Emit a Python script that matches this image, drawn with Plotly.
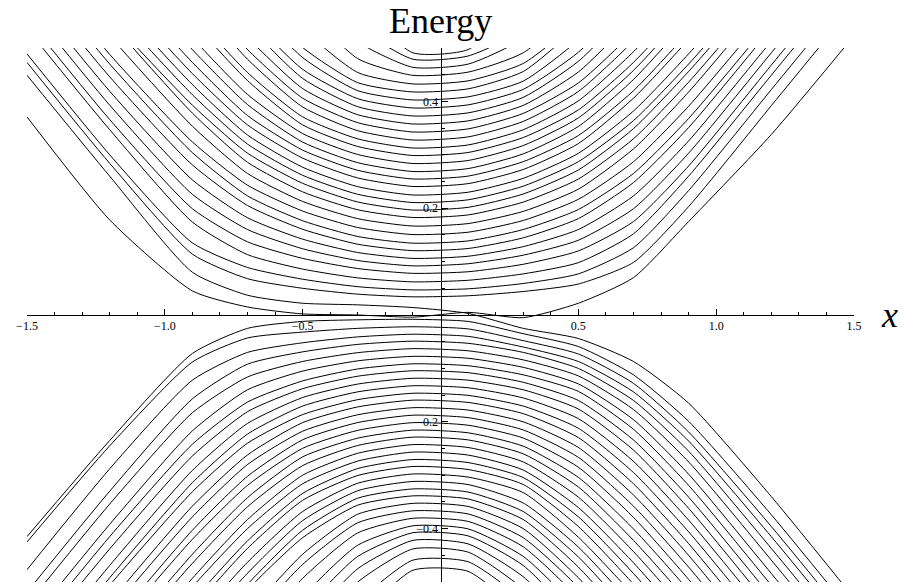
import plotly.graph_objects as go

# momentum sample points
x_nodes = [-1.5, -1.2, -0.9, -0.7, -0.5, -0.3, -0.1, 0.1, 0.3, 0.5, 0.7, 0.9, 1.2, 1.5]

# lowest conduction level (nearly flat around zero in the middle)
edge_band = [0.371, 0.178, 0.045, 0.015, 0.002, 0.0, -0.004, 0.005, -0.005, 0.022, 0.07, 0.175, 0.338, 0.523]

# level that crosses the gap from the conduction side to the valence side
crossing_band = [0.449, 0.260, 0.08, 0.037, 0.022, 0.019, 0.014, 0.003, -0.025, -0.044, -0.087, -0.165, -0.34, -0.53]

# conduction levels, lowest first
upper_bands = [
    [0.473, 0.284, 0.114, 0.068, 0.050, 0.039, 0.034, 0.036, 0.044, 0.058, 0.0985, 0.203, 0.392, 0.581],
    [0.489, 0.300, 0.135, 0.089, 0.067, 0.053, 0.047, 0.049, 0.059, 0.077, 0.126, 0.233, 0.422, 0.611],
    [0.536, 0.347, 0.174, 0.113, 0.086, 0.0695, 0.062, 0.065, 0.077, 0.098, 0.152, 0.260, 0.449, 0.638],
    [0.555, 0.366, 0.199, 0.137, 0.106, 0.087, 0.078, 0.081, 0.095, 0.120, 0.175, 0.279, 0.468, 0.657],
    [0.582, 0.393, 0.226, 0.160, 0.124, 0.102, 0.092, 0.096, 0.112, 0.140, 0.199, 0.303, 0.491, 0.680],
    [0.608, 0.419, 0.253, 0.182, 0.142, 0.117, 0.106, 0.110, 0.128, 0.160, 0.223, 0.326, 0.513, 0.702],
    [0.635, 0.446, 0.281, 0.205, 0.1605, 0.1325, 0.1205, 0.1245, 0.1445, 0.1805, 0.248, 0.351, 0.537, 0.726],
    [0.659, 0.470, 0.304, 0.223, 0.1765, 0.147, 0.1345, 0.1387, 0.160, 0.1975, 0.265, 0.368, 0.552, 0.741],
    [0.677, 0.488, 0.324, 0.243, 0.1946, 0.1638, 0.1506, 0.155, 0.177, 0.2166, 0.287, 0.391, 0.574, 0.763],
    [0.712, 0.523, 0.3535, 0.265, 0.2126, 0.1804, 0.1666, 0.1712, 0.194, 0.2356, 0.311, 0.4175, 0.601, 0.790],
    [0.739, 0.550, 0.378, 0.286, 0.2306, 0.197, 0.1826, 0.1874, 0.2114, 0.2546, 0.330, 0.436, 0.617, 0.806],
    [0.746, 0.557, 0.393, 0.303, 0.2466, 0.2116, 0.1966, 0.2016, 0.2266, 0.2716, 0.349, 0.456, 0.635, 0.824],
    [0.769, 0.580, 0.4125, 0.320, 0.2616, 0.226, 0.2106, 0.2157, 0.2412, 0.2871, 0.364, 0.470, 0.647, 0.836],
    [0.789, 0.600, 0.4315, 0.337, 0.2767, 0.2403, 0.2247, 0.2299, 0.2559, 0.3027, 0.382, 0.489, 0.666, 0.855],
    [0.811, 0.622, 0.452, 0.356, 0.2937, 0.2566, 0.2407, 0.246, 0.2725, 0.321, 0.406, 0.516, 0.697, 0.886],
    [0.834, 0.645, 0.473, 0.3735, 0.3087, 0.2709, 0.2547, 0.2601, 0.2871, 0.336, 0.420, 0.530, 0.708, 0.897],
    [0.864, 0.675, 0.497, 0.394, 0.3237, 0.2852, 0.2687, 0.2742, 0.3017, 0.353, 0.441, 0.554, 0.735, 0.924],
    [0.887, 0.698, 0.519, 0.413, 0.3397, 0.3005, 0.2837, 0.2893, 0.3173, 0.369, 0.458, 0.5705, 0.750, 0.939],
    [0.925, 0.736, 0.550, 0.439, 0.356, 0.3155, 0.2987, 0.3043, 0.3323, 0.384, 0.473, 0.585, 0.765, 0.954],
    [0.940, 0.751, 0.566, 0.454, 0.371, 0.3298, 0.3127, 0.3184, 0.3469, 0.401, 0.493, 0.607, 0.788, 0.977],
    [0.971, 0.782, 0.596, 0.479, 0.3895, 0.3451, 0.3277, 0.3335, 0.3625, 0.4185, 0.513, 0.622, 0.811, 1.000],
    [0.990, 0.801, 0.612, 0.497, 0.406, 0.3601, 0.3427, 0.3485, 0.3775, 0.4345, 0.530, 0.641, 0.830, 1.019],
    [1.017, 0.828, 0.639, 0.520, 0.424, 0.375, 0.3577, 0.3635, 0.3925, 0.455, 0.557, 0.675, 0.864, 1.053],
    [1.044, 0.855, 0.666, 0.544, 0.443, 0.390, 0.3727, 0.3785, 0.4075, 0.475, 0.580, 0.702, 0.891, 1.080],
    [1.063, 0.874, 0.685, 0.562, 0.460, 0.405, 0.3877, 0.3935, 0.4225, 0.492, 0.598, 0.721, 0.910, 1.100],
    [1.093, 0.904, 0.715, 0.590, 0.482, 0.420, 0.4027, 0.4085, 0.438, 0.515, 0.626, 0.752, 0.941, 1.130],
    [1.116, 0.927, 0.738, 0.612, 0.501, 0.435, 0.4177, 0.4235, 0.456, 0.542, 0.660, 0.786, 0.975, 1.164],
    [1.160, 0.970, 0.780, 0.658, 0.536, 0.454, 0.4327, 0.4385, 0.471, 0.553, 0.671, 0.800, 0.990, 1.180],
    [1.210, 1.020, 0.830, 0.700, 0.580, 0.480, 0.4488, 0.4548, 0.491, 0.580, 0.700, 0.830, 1.020, 1.210],
    [1.260, 1.070, 0.880, 0.750, 0.626, 0.512, 0.4638, 0.4698, 0.518, 0.622, 0.750, 0.870, 1.060, 1.250],
    [1.290, 1.100, 0.910, 0.790, 0.664, 0.540, 0.479, 0.485, 0.535, 0.656, 0.780, 0.910, 1.100, 1.290],
    [1.330, 1.140, 0.950, 0.830, 0.700, 0.582, 0.491, 0.497, 0.587, 0.700, 0.830, 0.950, 1.140, 1.330],
]

# valence levels, highest first
lower_bands = [
    [-0.415, -0.235, -0.072, -0.025, -0.012, -0.009, -0.008, -0.012, -0.035, -0.059, -0.112, -0.199, -0.374, -0.563],
    [-0.425, -0.245, -0.088, -0.043, -0.032, -0.025, -0.022, -0.026, -0.048, -0.073, -0.128, -0.219, -0.396, -0.585],
    [-0.477, -0.288, -0.122, -0.070, -0.052, -0.041, -0.036, -0.040, -0.060, -0.087, -0.144, -0.236, -0.415, -0.604],
    [-0.519, -0.330, -0.157, -0.092, -0.069, -0.055, -0.049, -0.053, -0.070, -0.100, -0.160, -0.255, -0.437, -0.626],
    [-0.543, -0.354, -0.183, -0.116, -0.087, -0.0705, -0.063, -0.067, -0.084, -0.114, -0.177, -0.275, -0.459, -0.648],
    [-0.581, -0.392, -0.217, -0.140, -0.105, -0.0858, -0.0774, -0.081, -0.098, -0.129, -0.196, -0.298, -0.484, -0.673],
    [-0.604, -0.415, -0.242, -0.163, -0.1234, -0.101, -0.0914, -0.095, -0.112, -0.143, -0.214, -0.319, -0.506, -0.695],
    [-0.627, -0.438, -0.264, -0.181, -0.138, -0.1146, -0.1044, -0.108, -0.126, -0.160, -0.234, -0.341, -0.528, -0.717],
    [-0.658, -0.469, -0.291, -0.203, -0.1545, -0.1293, -0.1185, -0.122, -0.140, -0.176, -0.253, -0.362, -0.550, -0.739],
    [-0.681, -0.492, -0.314, -0.223, -0.1705, -0.1439, -0.1325, -0.1363, -0.1553, -0.194, -0.274, -0.384, -0.572, -0.761],
    [-0.695, -0.506, -0.331, -0.240, -0.1865, -0.1585, -0.1465, -0.1505, -0.1705, -0.212, -0.295, -0.406, -0.594, -0.784],
    [-0.727, -0.538, -0.358, -0.262, -0.2015, -0.1721, -0.1595, -0.1637, -0.1847, -0.2295, -0.316, -0.428, -0.617, -0.806],
    [-0.746, -0.557, -0.378, -0.280, -0.2176, -0.1868, -0.1736, -0.178, -0.200, -0.248, -0.337, -0.450, -0.639, -0.828],
    [-0.773, -0.584, -0.403, -0.302, -0.2336, -0.2014, -0.1876, -0.1922, -0.2152, -0.2665, -0.358, -0.472, -0.661, -0.850],
    [-0.788, -0.599, -0.420, -0.319, -0.2496, -0.216, -0.2016, -0.2064, -0.2304, -0.285, -0.379, -0.495, -0.683, -0.872],
    [-0.818, -0.629, -0.448, -0.342, -0.2656, -0.2306, -0.2156, -0.2206, -0.2456, -0.304, -0.4006, -0.516, -0.705, -0.894],
    [-0.833, -0.644, -0.465, -0.359, -0.282, -0.2443, -0.2287, -0.2339, -0.2599, -0.322, -0.422, -0.538, -0.727, -0.916],
    [-0.864, -0.675, -0.493, -0.383, -0.300, -0.2589, -0.2427, -0.2481, -0.2751, -0.341, -0.443, -0.560, -0.749, -0.938],
    [-0.879, -0.690, -0.509, -0.400, -0.316, -0.2735, -0.2567, -0.2623, -0.2903, -0.3605, -0.464, -0.582, -0.771, -0.960],
    [-0.910, -0.721, -0.536, -0.423, -0.334, -0.2875, -0.2707, -0.2763, -0.3043, -0.378, -0.484, -0.604, -0.793, -0.980],
    [-0.925, -0.736, -0.551, -0.437, -0.347, -0.3005, -0.2837, -0.2893, -0.3173, -0.396, -0.504, -0.626, -0.815, -1.000],
    [-0.956, -0.767, -0.578, -0.463, -0.368, -0.315, -0.2977, -0.3035, -0.3325, -0.416, -0.525, -0.648, -0.837, -1.030],
    [-0.979, -0.790, -0.601, -0.4835, -0.385, -0.329, -0.3117, -0.3175, -0.352, -0.4345, -0.546, -0.670, -0.860, -1.050],
    [-1.000, -0.810, -0.620, -0.504, -0.403, -0.343, -0.3257, -0.3315, -0.368, -0.453, -0.566, -0.692, -0.880, -1.070],
    [-1.020, -0.830, -0.640, -0.515, -0.417, -0.356, -0.3387, -0.3445, -0.383, -0.472, -0.588, -0.714, -0.900, -1.090],
    [-1.063, -0.874, -0.685, -0.560, -0.448, -0.373, -0.3527, -0.3585, -0.400, -0.492, -0.610, -0.736, -0.930, -1.110],
    [-1.090, -0.900, -0.710, -0.580, -0.467, -0.389, -0.3667, -0.3725, -0.417, -0.510, -0.632, -0.760, -0.950, -1.140],
    [-1.116, -0.927, -0.738, -0.612, -0.493, -0.408, -0.3807, -0.3865, -0.434, -0.530, -0.654, -0.780, -0.970, -1.160],
    [-1.154, -0.965, -0.776, -0.650, -0.527, -0.431, -0.3947, -0.4005, -0.452, -0.552, -0.676, -0.800, -0.990, -1.180],
    [-1.185, -0.996, -0.807, -0.681, -0.555, -0.452, -0.4077, -0.4136, -0.469, -0.575, -0.698, -0.820, -1.010, -1.200],
    [-1.215, -1.026, -0.837, -0.711, -0.585, -0.475, -0.422, -0.4286, -0.490, -0.597, -0.720, -0.850, -1.040, -1.230],
    [-1.245, -1.056, -0.867, -0.741, -0.615, -0.500, -0.438, -0.444, -0.513, -0.626, -0.750, -0.880, -1.070, -1.260],
    [-1.290, -1.100, -0.913, -0.787, -0.660, -0.538, -0.459, -0.462, -0.535, -0.660, -0.780, -0.910, -1.100, -1.290],
    [-1.330, -1.140, -0.950, -0.830, -0.690, -0.570, -0.478, -0.480, -0.563, -0.690, -0.830, -0.950, -1.140, -1.330],
]

x_tick_vals = [-1.5, -1.0, -0.5, 0.5, 1.0, 1.5]
x_tick_text = ["\u22121.5", "\u22121.0", "\u22120.5", "0.5", "1.0", "1.5"]
y_tick_vals = [-0.4, -0.2, 0.2, 0.4]
y_tick_text = ["\u22120.4", "\u22120.2", "0.2", "0.4"]
x_minor_vals = [-1.4, -1.3, -1.2, -1.1, -0.9, -0.8, -0.7, -0.6, -0.4, -0.3, -0.2, -0.1,
                0.1, 0.2, 0.3, 0.4, 0.6, 0.7, 0.8, 0.9, 1.1, 1.2, 1.3, 1.4]
y_minor_vals = [-0.5, -0.45, -0.35, -0.3, -0.25, -0.15, -0.1, -0.05,
                0.05, 0.1, 0.15, 0.25, 0.3, 0.35, 0.45, 0.5]

serif = "Liberation Serif"
fig = go.Figure()
for band in [edge_band, crossing_band] + upper_bands + lower_bands:
    fig.add_trace(go.Scatter(x=x_nodes, y=band, mode="lines",
                             line=dict(color="black", width=1,
                                       shape="spline", smoothing=0.6),
                             hoverinfo="skip"))

fig.update_layout(
    width=905, height=587,
    margin=dict(l=27, r=51, t=47.5, b=4.5),
    paper_bgcolor="white", plot_bgcolor="white",
    showlegend=False,
    xaxis=dict(
        range=[-1.5, 1.5], anchor="free", position=0.5,
        showline=True, linecolor="black", linewidth=1,
        showgrid=False, zeroline=False,
        ticks="inside", ticklen=6, tickwidth=1, tickcolor="black",
        tickmode="array", tickvals=x_tick_vals, ticktext=x_tick_text,
        tickfont=dict(family=serif, size=12, color="black"),
        minor=dict(ticks="inside", ticklen=3, tickcolor="black",
                   tickmode="array", tickvals=x_minor_vals),
    ),
    yaxis=dict(
        range=[-0.5, 0.5], anchor="free", position=0.5,
        showline=True, linecolor="black", linewidth=1,
        showgrid=False, zeroline=False,
        ticks="inside", ticklen=6, tickwidth=1, tickcolor="black",
        tickmode="array", tickvals=y_tick_vals, ticktext=y_tick_text,
        tickfont=dict(family=serif, size=12, color="black"),
        minor=dict(ticks="inside", ticklen=3, tickcolor="black",
                   tickmode="array", tickvals=y_minor_vals),
    ),
    annotations=[
        dict(text="Energy", x=0.5, y=1.0514, xref="paper", yref="paper",
             showarrow=False, xanchor="center", yanchor="middle",
             font=dict(family=serif, size=36, color="black")),
        dict(text="<i>x</i>", x=1.0435, y=0.50, xref="paper", yref="paper",
             showarrow=False, xanchor="center", yanchor="middle",
             font=dict(family=serif, size=36, color="black")),
    ],
)

fig.write_html("out.html")
